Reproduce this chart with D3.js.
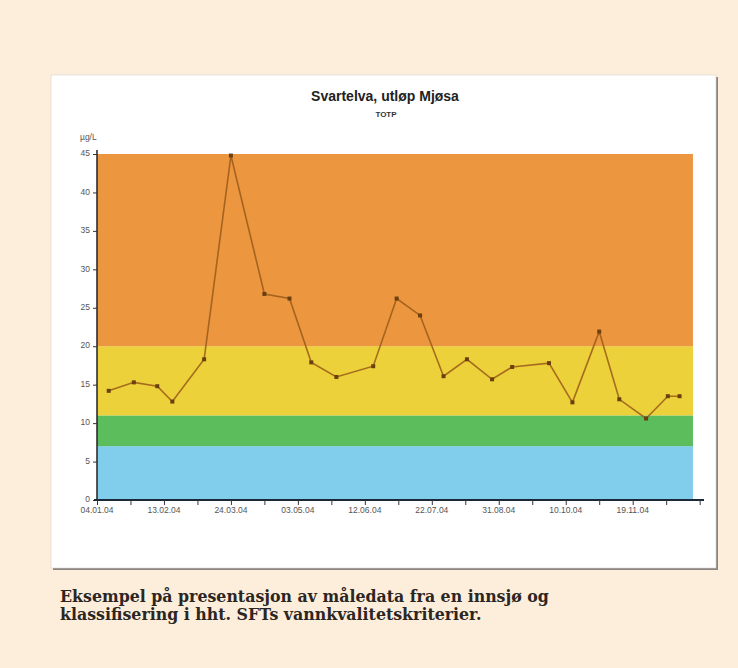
<!DOCTYPE html>
<html><head><meta charset="utf-8">
<script src="https://cdn.jsdelivr.net/npm/d3@7"></script>
<style>html,body{margin:0;padding:0;background:#fdeedb;}svg{display:block}</style>
</head><body>
<svg id="c" width="738" height="668"></svg>
<script>
const title = "Svartelva, utløp Mjøsa";
const subtitle = "TOTP";
const unitLabel = "µg/L";
const dates = ["2004-01-11","2004-01-26","2004-02-09","2004-02-18","2004-03-08","2004-03-24","2004-04-13","2004-04-28","2004-05-11","2004-05-26","2004-06-17","2004-07-01","2004-07-15","2004-07-29","2004-08-12","2004-08-27","2004-09-08","2004-09-30","2004-10-14","2004-10-30","2004-11-11","2004-11-27","2004-12-10","2004-12-17"];
const values = [14.2,15.3,14.8,12.8,18.3,44.8,26.8,26.2,17.9,16.0,17.4,26.2,24.0,16.1,18.3,15.7,17.3,17.8,12.7,21.9,13.1,10.6,13.5,13.5];
const bandLimits = [0,7,11,20,45];
const bandColors = ["#80cdec","#5bbd5c","#ecd13a","#ec9640"];
const yTicks = [0,5,10,15,20,25,30,35,40,45];
const xTickLabels = ["04.01.04","13.02.04","24.03.04","03.05.04","12.06.04","22.07.04","31.08.04","10.10.04","19.11.04"];
const captionLines = ["Eksempel på presentasjon av måledata fra en innsjø og","klassifisering i hht. SFTs vannkvalitetskriterier."];

const parse = d3.timeParse("%Y-%m-%d");
const parseLbl = d3.timeParse("%d.%m.%y");
const svg = d3.select("#c");

// panel
svg.append("rect").attr("x",53).attr("y",77).attr("width",665).attr("height",493).attr("fill","#8a8580");
svg.append("rect").attr("x",51).attr("y",75).attr("width",665).attr("height",493).attr("fill","#ffffff").attr("stroke","#d8d4cf").attr("stroke-width",0.6);

const t0 = parse("2004-01-04"), t1 = parse("2004-12-31");
const x = d3.scaleTime().domain([t0,t1]).range([97,703]);
const y = d3.scaleLinear().domain([0,45]).range([500,154]);
const bandEnd = d3.timeDay.offset(t1,-6);

// bands
const g = svg.append("g");
for (let i=0;i<bandColors.length;i++){
  g.append("rect").attr("x",x(t0)).attr("width",x(bandEnd)-x(t0))
   .attr("y",y(bandLimits[i+1])).attr("height",y(bandLimits[i])-y(bandLimits[i+1]))
   .attr("fill",bandColors[i]);
}

// y axis
const ya = svg.append("g").attr("transform","translate(97,0)")
  .call(d3.axisLeft(y).tickValues(yTicks).tickSize(4).tickPadding(3));
ya.select(".domain").attr("stroke","#222").attr("stroke-width",1.5).attr("d","M0,"+(y(45)-4)+"V500");
ya.selectAll("line").attr("stroke","#333");
ya.selectAll("text").attr("font-family","Arial, Liberation Sans, sans-serif").attr("font-size",8.5).attr("fill","#555").attr("dy","0.2em");

// x axis
const minorTicks = d3.timeDay.every(1).range(t0, d3.timeDay.offset(t1,1)).filter((d,i)=>i%20===0);
const xa = svg.append("g").attr("transform","translate(0,500)")
  .call(d3.axisBottom(x).tickValues(minorTicks).tickSize(5).tickFormat(""));
xa.select(".domain").attr("stroke","#1c2a38").attr("stroke-width",2).attr("d","M94,0H704");
xa.selectAll("line").attr("stroke","#334");
svg.append("g").selectAll("text").data(xTickLabels).join("text")
  .attr("x",d=>x(parseLbl(d))).attr("y",513).attr("text-anchor","middle")
  .attr("font-family","Arial, Liberation Sans, sans-serif").attr("font-size",8.5).attr("fill","#555")
  .text(d=>d);

// line
const pts = dates.map((d,i)=>({t:parse(d),v:values[i]}));
svg.append("path").datum(pts)
  .attr("d",d3.line().x(d=>x(d.t)).y(d=>y(d.v)))
  .attr("fill","none").attr("stroke","#9a5a18").attr("stroke-width",1.6).attr("stroke-opacity",0.85);
svg.append("g").selectAll("rect").data(pts).join("rect")
  .attr("x",d=>x(d.t)-2).attr("y",d=>y(d.v)-2).attr("width",4).attr("height",4)
  .attr("fill","#6a4010");

// titles
svg.append("text").attr("x",385).attr("y",101).attr("text-anchor","middle")
  .attr("font-family","Arial, Liberation Sans, sans-serif").attr("font-weight","bold").attr("font-size",14).attr("fill","#222").text(title);
svg.append("text").attr("x",386).attr("y",117).attr("text-anchor","middle")
  .attr("font-family","Arial, Liberation Sans, sans-serif").attr("font-weight","bold").attr("font-size",8).attr("fill","#333").text(subtitle);
svg.append("text").attr("x",80).attr("y",140)
  .attr("font-family","Arial, Liberation Sans, sans-serif").attr("font-size",8.5).attr("fill","#555").text(unitLabel);

// caption
svg.append("g").selectAll("text").data(captionLines).join("text")
  .attr("x",60).attr("y",(d,i)=>602+i*18)
  .attr("font-family","DejaVu Serif, serif").attr("font-weight","bold").attr("font-size",15.8).attr("fill","#2b2623")
  .text(d=>d);
</script>
</body></html>
